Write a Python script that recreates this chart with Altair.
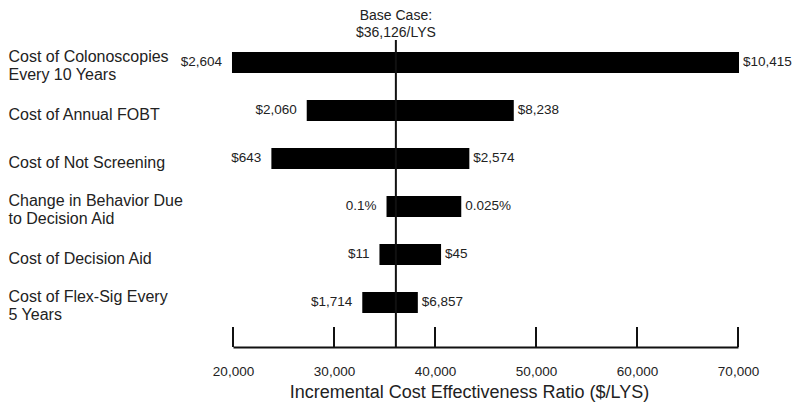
import altair as alt
import pandas as pd

categories = [
    "Cost of Colonoscopies|Every 10 Years",
    "Cost of Annual FOBT",
    "Cost of Not Screening",
    "Change in Behavior Due|to Decision Aid",
    "Cost of Decision Aid",
    "Cost of Flex-Sig Every|5 Years",
]
icer_low = [19900, 27300, 23800, 35200, 34500, 32800]
icer_high = [70100, 47800, 43400, 42600, 40600, 38300]
low_labels = ["$2,604", "$2,060", "$643", "0.1%", "$11", "$1,714"]
high_labels = ["$10,415", "$8,238", "$2,574", "0.025%", "$45", "$6,857"]
base_case = 36126
base_label = "Base Case:\n$36,126/LYS"
x_ticks = [20000, 30000, 40000, 50000, 60000, 70000]

df = pd.DataFrame({
    "param": categories,
    "low": icer_low,
    "high": icer_high,
    "low_label": low_labels,
    "high_label": high_labels,
})
ticks_df = pd.DataFrame({"tick": x_ticks})
base_df = pd.DataFrame({"icer": [base_case], "label": [base_label]})

FONT = "Liberation Sans"
INK = "#111111"
TXT = "#222222"
PLOT_H = 339

x_scale = alt.Scale(domain=[20000, 70000], nice=False, zero=False)
y_scale = alt.Scale(domain=categories, paddingInner=0.5625, paddingOuter=0.8125, align=0.564)

x_axis = alt.Axis(
    title="Incremental  Cost Effectiveness Ratio ($/LYS)",
    values=x_ticks, format=",.0f", grid=False, ticks=False,
    domain=True, domainColor=INK, domainWidth=2,
    labelFont=FONT, labelFontSize=13.5, labelColor=TXT, labelPadding=17,
    labelFlush=False,
    titleFont=FONT, titleFontSize=18, titleFontWeight="normal",
    titleColor=TXT, titlePadding=6, titleX=236,
)
y_axis = alt.Axis(
    title=None, domain=False, ticks=False, grid=False,
    labelAlign="left", labelPadding=225, labelFont=FONT, labelFontSize=16,
    labelColor=TXT, labelExpr="split(datum.label, '|')", labelLineHeight=18,
    labelOffset={"expr": "indexof(datum.value, '|') >= 0 ? -5 : 5"},
    labelLimit=0,
)

bars = alt.Chart(df).mark_bar(color="black").encode(
    x=alt.X("low:Q", scale=x_scale, axis=x_axis),
    x2="high:Q",
    y=alt.Y("param:N", scale=y_scale, axis=y_axis, sort=None),
)

low_text = alt.Chart(df).mark_text(
    align="right", baseline="middle", dx=-10, font=FONT, fontSize=13.5, color=TXT
).encode(
    x=alt.X("low:Q", scale=x_scale, axis=x_axis),
    y=alt.Y("param:N", scale=y_scale, axis=y_axis, sort=None),
    text="low_label:N",
)

high_text = alt.Chart(df).mark_text(
    align="left", baseline="middle", dx=4, font=FONT, fontSize=13.5, color=TXT
).encode(
    x=alt.X("high:Q", scale=x_scale, axis=x_axis),
    y=alt.Y("param:N", scale=y_scale, axis=y_axis, sort=None),
    text="high_label:N",
)

tick_marks = alt.Chart(ticks_df).mark_rule(color=INK, strokeWidth=2).encode(
    x=alt.X("tick:Q", scale=x_scale, axis=x_axis),
    y=alt.value(PLOT_H - 20),
    y2=alt.value(PLOT_H),
)

base_line = alt.Chart(base_df).mark_rule(color=INK, strokeWidth=2).encode(
    x=alt.X("icer:Q", scale=x_scale, axis=x_axis),
    y=alt.value(32),
    y2=alt.value(PLOT_H),
)

base_text = alt.Chart(base_df).mark_text(
    align="center", baseline="alphabetic", lineBreak="\n", lineHeight=17,
    font=FONT, fontSize=14, color=TXT
).encode(
    x=alt.X("icer:Q", scale=x_scale, axis=x_axis),
    y=alt.value(12),
    text="label:N",
)

chart = alt.layer(bars, low_text, high_text, tick_marks, base_line, base_text).properties(
    width=505,
    height=PLOT_H,
    autosize=alt.AutoSizeParams(type="none"),
    padding={"left": 225, "top": 0, "right": 54, "bottom": 56},
    background="white",
).configure_view(stroke=None)

chart.save("out.html", embed_options={"renderer": "svg", "actions": False})
